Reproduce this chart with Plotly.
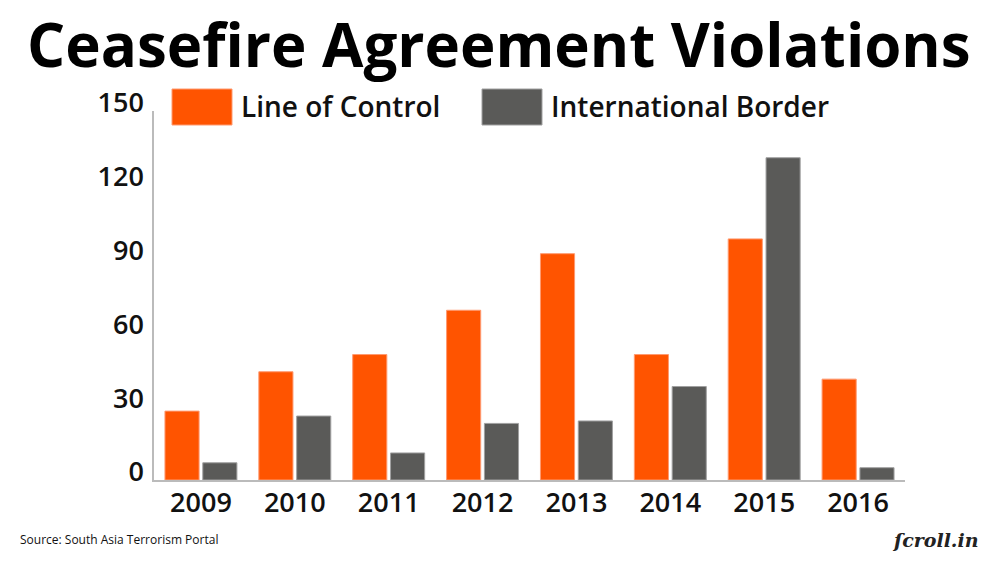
import plotly.graph_objects as go

years = ["2009", "2010", "2011", "2012", "2013", "2014", "2015", "2016"]
line_of_control = [28, 44, 51, 69, 92, 51, 98, 41]
international_border = [7, 26, 11, 23, 24, 38, 131, 5]
y_ticks = [0, 30, 60, 90, 120, 150]

ORANGE = "#FF5400"
GRAY = "#5A5A58"
FONT = "Open Sans"

fig = go.Figure()
fig.add_trace(go.Bar(x=years, y=line_of_control, name="Line of Control",
                     marker=dict(color=ORANGE, line=dict(color="#FF9A70", width=1)),
                     showlegend=False))
fig.add_trace(go.Bar(x=years, y=international_border, name="International Border",
                     marker=dict(color=GRAY, line=dict(color="#A0A0A0", width=1)),
                     showlegend=False))

W, H = 1000, 571
L, R, T, B = 154, 95, 111, 91
pw, ph = W - L - R, H - T - B

def px(x):
    return (x - L) / pw

def py(y):
    return (H - B - y) / ph

fig.update_layout(
    width=W, height=H,
    margin=dict(l=L, r=R, t=T, b=B, pad=0),
    paper_bgcolor="white", plot_bgcolor="white",
    barmode="group", bargap=0.194, bargroupgap=0.098,
    font=dict(family=FONT, color="#111111"),
    showlegend=False,
)
fig.update_xaxes(showline=True, linecolor="#BBBBBB", linewidth=1.5, showgrid=False,
                 ticks="", tickfont=dict(size=27, family=FONT, weight=600, color="#111111"),
                 ticklabelstandoff=-2, fixedrange=True)
fig.update_yaxes(range=[0, 150], tickvals=y_ticks, showline=True, linecolor="#BBBBBB",
                 linewidth=1.5, showgrid=False, zeroline=False, ticks="",
                 tickfont=dict(size=27, family=FONT, weight=600, color="#111111"),
                 ticklabelshift=-8, ticklabelstandoff=3, fixedrange=True)

# Title
fig.add_annotation(text="<b>Ceasefire Agreement Violations</b>", xref="paper", yref="paper",
                   x=px(498.5), y=py(44), xanchor="center", yanchor="middle",
                   showarrow=False, font=dict(size=60, family=FONT, color="#000000"))

# Legend (custom large swatches)
legend_items = [("Line of Control", ORANGE, "#FF9A70", 172), ("International Border", GRAY, "#A0A0A0", 482)]
for label, col, edge, x0 in legend_items:
    fig.add_shape(type="rect", xref="paper", yref="paper",
                  x0=px(x0), x1=px(x0 + 60), y0=py(125), y1=py(89),
                  fillcolor=col, line=dict(color=edge, width=1))
    fig.add_annotation(text=label, xref="paper", yref="paper", x=px(x0 + 67), y=py(106),
                       xanchor="left", yanchor="middle", showarrow=False,
                       font=dict(size=28, family=FONT, weight=600, color="#111111"))

# Source
fig.add_annotation(text="Source: South Asia Terrorism Portal", xref="paper", yref="paper",
                   x=px(18), y=py(539), xanchor="left", yanchor="middle", showarrow=False,
                   font=dict(size=12, family=FONT, color="#111111"))
# Logo
fig.add_annotation(text="<b><i>ſcroll.in</i></b>", xref="paper", yref="paper",
                   x=px(981), y=py(540), xanchor="right", yanchor="middle", showarrow=False,
                   font=dict(size=19, family="DejaVu Serif", color="#222222"))

fig.write_html("out.html", config={"displayModeBar": False},
               post_script="document.body.style.margin='0';")
